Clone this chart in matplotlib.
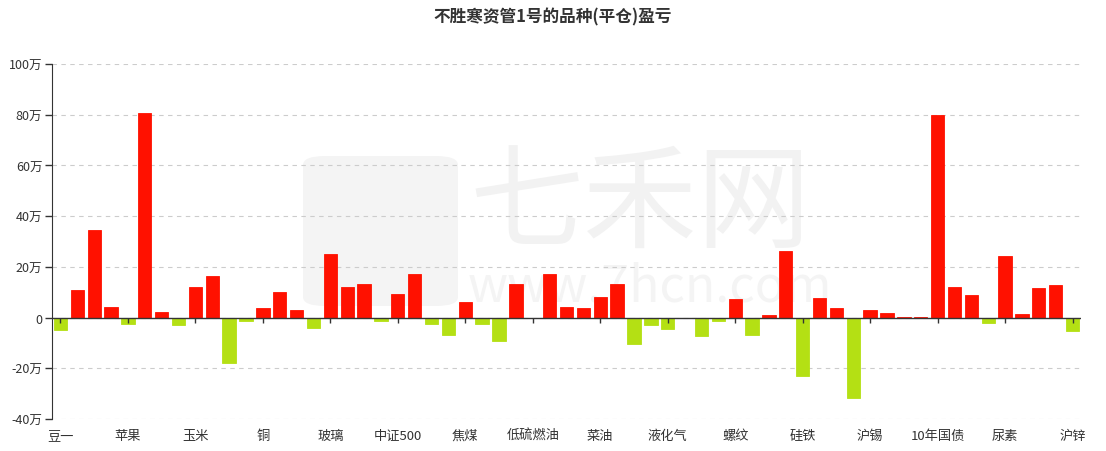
import matplotlib.pyplot as plt
from matplotlib.patches import FancyBboxPatch
import numpy as np

plt.rcParams["font.family"] = ["Noto Sans CJK SC", "DejaVu Sans"]

# labels shown on the x axis (every 4th variety)
tick_labels = ['豆一', '苹果', '玉米', '铜', '玻璃', '中证500', '焦煤', '低硫燃油',
               '菜油', '液化气', '螺纹', '硅铁', '沪锡', '10年国债', '尿素', '沪锌']
# closed-position profit/loss per variety, in 万
pnl = [-5.0, 10.7, 34.5, 4.3, -2.4, 80.5, 2.2, -3.0,
       12.2, 16.4, -18.0, -1.4, 3.7, 10.1, 3.0, -4.2,
       25.1, 12.1, 13.4, -1.4, 9.3, 17.1, -2.5, -6.7,
       6.0, -2.5, -9.3, 13.3, 0.0, 17.1, 4.2, 3.8,
       8.3, 13.3, -10.4, -2.9, -4.6, 0.0, -7.2, -1.4,
       7.4, -7.0, 1.0, 26.3, -23.2, 7.9, 3.6, -31.8,
       3.0, 2.0, 0.4, 0.4, 80.0, 12.2, 8.8, -2.2,
       24.1, 1.6, 11.7, 12.8, -5.3]
yticks = [-40, -20, 0, 20, 40, 60, 80, 100]

red = '#ff1100'
green = '#b4e014'

fig = plt.figure(figsize=(11.06, 4.52), dpi=100)
ax = fig.add_axes([52/1106, 1-420/452, 1029/1106, 355/452])
ax.set_zorder(2)
ax.patch.set_alpha(0)

# watermark (behind the axes)
fig.patches.append(FancyBboxPatch((303/1106, 1-307/452), 155/1106, 150/452,
                                  boxstyle="round,pad=0,rounding_size=0.02",
                                  transform=fig.transFigure, fc='#f4f4f4', ec='none', zorder=0))
fig.text(640/1106, 1-207/452, '七禾网', fontsize=82, color='#f2f2f2', ha='center', va='center', zorder=0.5)
fig.text(650/1106, 1-288/452, 'www.7hcn.com', fontsize=36, color='#f4f4f4', ha='center', va='center', zorder=0.5)

x = np.arange(len(pnl))
colors = [red if v >= 0 else green for v in pnl]
ax.bar(x, pnl, width=0.79, color=colors, edgecolor=colors, linewidth=0.6, zorder=3)

ax.set_xlim(-0.5, len(pnl) - 0.5)
ax.set_ylim(-40, 100)
ax.set_yticks(yticks)
ax.set_yticklabels([f'{v}万' if v != 0 else '0' for v in yticks])
ax.grid(axis='y', color='#cccccc', linestyle=(0, (4, 4)), linewidth=0.8, zorder=0)

tick_pos = x[::4]
ax.set_xticks(tick_pos)
ax.set_xticklabels(tick_labels)
ax.tick_params(axis='x', length=0, pad=7, labelsize=9.5, colors='#333333')
ax.tick_params(axis='y', length=5, width=1, color='#333333', labelsize=9, labelcolor='#333333', pad=2)

ax.axhline(0, color='#333333', linewidth=1, zorder=4)
ax.vlines(tick_pos, -2.0, 0, color='#333333', linewidth=1, zorder=4)

for s in ['top', 'right', 'bottom']:
    ax.spines[s].set_visible(False)
ax.spines['left'].set_color('#333333')

fig.text(0.5, 1-17/452, '不胜寒资管1号的品种(平仓)盈亏', ha='center', va='center',
         fontsize=12, fontweight='bold', color='#333333')

plt.savefig('out.png', dpi=100)
